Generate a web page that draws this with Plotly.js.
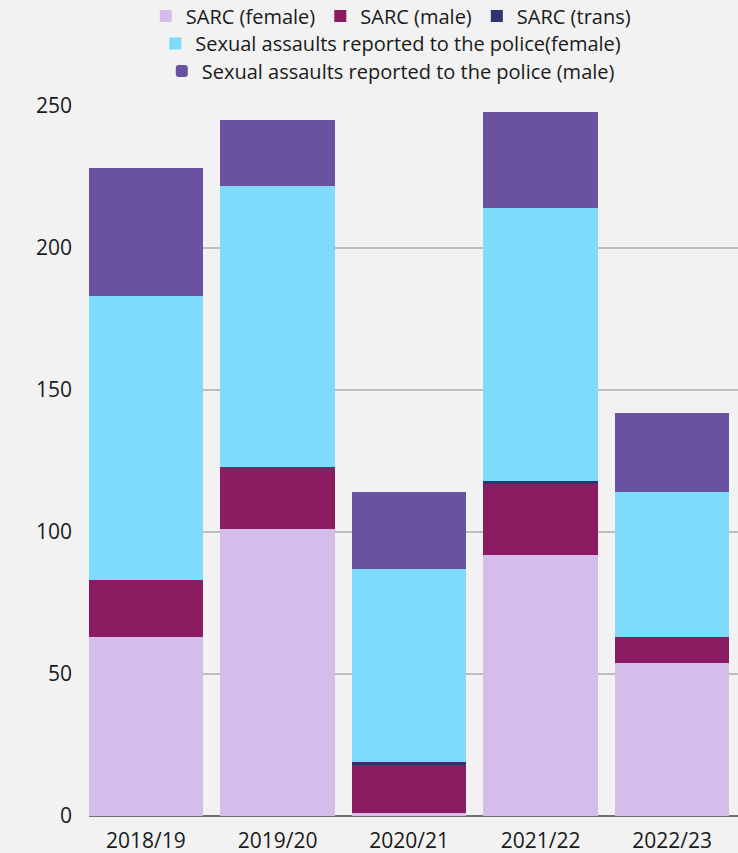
<!DOCTYPE html>
<html>
<head>
<meta charset="utf-8">
<script src="https://cdn.plot.ly/plotly-3.0.1.min.js"></script>
<style>html,body{margin:0;padding:0;background:#f1f2f1;}#chart{width:738px;height:853px;}</style>
</head>
<body>
<div id="chart"></div>
<script>
const years = ["2018/19", "2019/20", "2020/21", "2021/22", "2022/23"];
const sarcFemale = [63, 101, 1, 92, 54];
const sarcMale = [20, 22, 17, 25, 9];
const sarcTrans = [0, 0, 1, 1, 0];
const policeFemale = [100, 99, 68, 96, 51];
const policeMale = [45, 23, 27, 34, 28];

const names = ["SARC (female)", "SARC (male)", "SARC (trans)", "Sexual assaults reported to the police(female)", "Sexual assaults reported to the police (male)"];
const colors = ["#d4bdea", "#8b1c62", "#2e3470", "#7fdbfb", "#6a52a0"];
const series = [sarcFemale, sarcMale, sarcTrans, policeFemale, policeMale];
const legendIds = ["legend", "legend", "legend", "legend2", "legend3"];

const traces = series.map((vals, i) => ({
  type: "bar",
  name: names[i],
  x: years,
  y: vals,
  marker: {color: colors[i], line: {width: 0}, cornerradius: i === 4 ? 6 : 0},
  legend: legendIds[i],
  hoverinfo: "x+y+name"
}));

const FONT = "Open Sans, sans-serif";
const legFont = {family: FONT, size: 20, color: "#1a1a1a"};
const legBase = {orientation: "h", xanchor: "center", yanchor: "middle", x: 0.465, xref: "paper", yref: "container",
  traceorder: "normal", bgcolor: "rgba(0,0,0,0)", font: legFont, itemwidth: 30, tracegroupgap: 0,
  itemclick: false, itemdoubleclick: false};

const layout = {
  width: 738, height: 853,
  paper_bgcolor: "#f1f2f1", plot_bgcolor: "#f1f2f1",
  margin: {l: 89, r: 0, t: 106, b: 37},
  barmode: "stack",
  bargap: 0.13,
  font: {family: FONT, size: 21, color: "#1a1a1a"},
  xaxis: {
    type: "category",
    range: [-0.433, 4.5],
    showgrid: false, zeroline: false, showline: false,
    ticks: "", ticklabelstandoff: 10,
    tickfont: {family: FONT, size: 21, color: "#1a1a1a"}
  },
  yaxis: {
    range: [0, 250],
    tickvals: [0, 50, 100, 150, 200, 250],
    showgrid: true, gridcolor: "#bdbdbd", gridwidth: 2,
    zeroline: true, zerolinecolor: "#6e6e6e", zerolinewidth: 2,
    showline: false, ticks: "", ticklabelstandoff: 16,
    tickfont: {family: FONT, size: 21, color: "#1a1a1a"}
  },
  legend: Object.assign({}, legBase, {y: 1 - 16/853}),
  legend2: Object.assign({}, legBase, {y: 1 - 43.5/853}),
  legend3: Object.assign({}, legBase, {y: 1 - 71/853}),
  showlegend: true
};

Plotly.newPlot("chart", traces, layout, {displayModeBar: false, staticPlot: true});
</script>
</body>
</html>
